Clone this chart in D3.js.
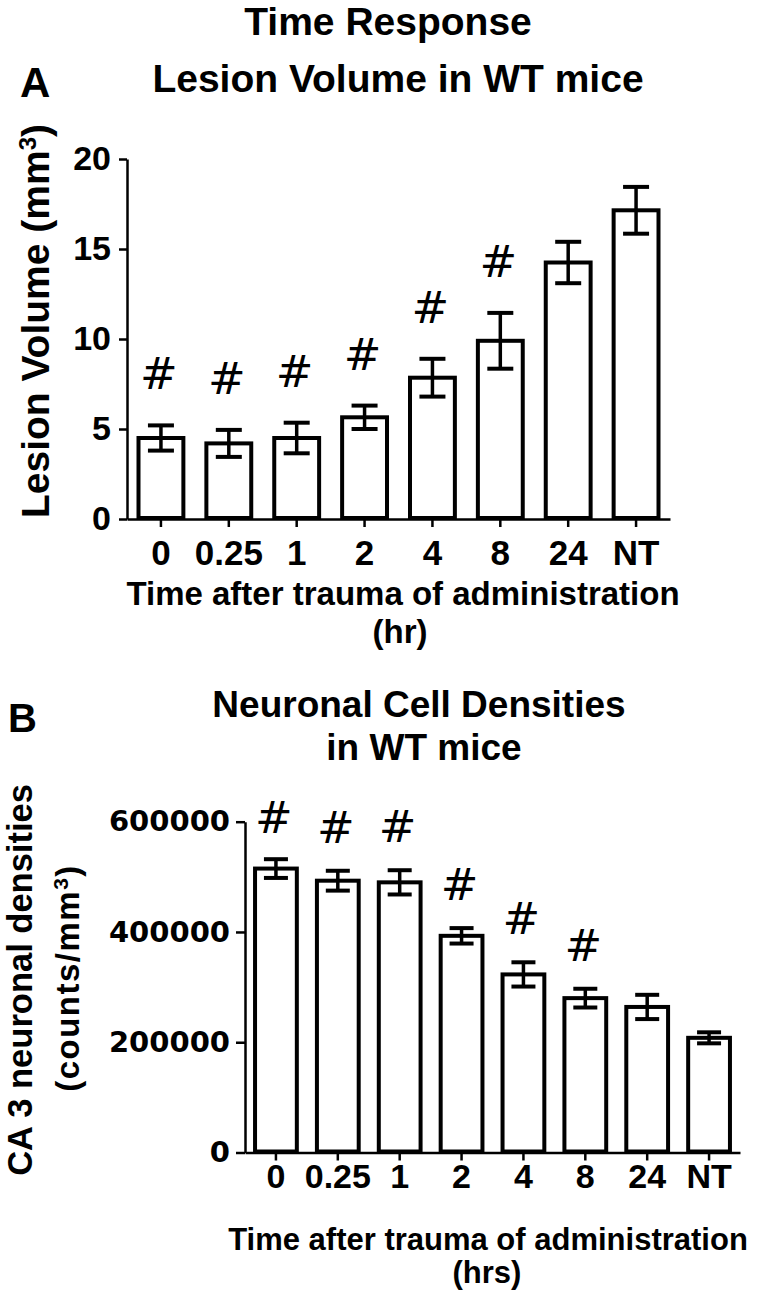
<!DOCTYPE html>
<html>
<head>
<meta charset="utf-8">
<script src="https://cdn.jsdelivr.net/npm/d3@7"></script>
<style>
  html, body { margin: 0; padding: 0; background: #fff; }
  svg { display: block; }
  text { font-family: "Liberation Sans", Arial, sans-serif; font-weight: bold; fill: #000; }
</style>
</head>
<body>
<svg id="chart" width="760" height="1292"></svg>
<script>
// ---------- data ----------
const categories = ["0", "0.25", "1", "2", "4", "8", "24", "NT"];

// Panel A: lesion volume (mm^3)
const lesionMean = [4.5, 4.2, 4.5, 5.65, 7.85, 9.9, 14.25, 17.15];
const lesionErr  = [0.7, 0.75, 0.85, 0.65, 1.05, 1.55, 1.15, 1.3];
const lesionSig  = [true, true, true, true, true, true, false, false];
const lesionTicks = [0, 5, 10, 15, 20];

// Panel B: CA3 neuronal densities (counts/mm^3)
const densityMean = [515000, 493000, 490000, 393000, 323000, 280000, 264000, 208000];
const densityErr  = [17000, 18000, 22000, 14000, 22000, 17000, 22000, 10000];
const densitySig  = [true, true, true, true, true, true, false, false];
const densityTicks = [0, 200000, 400000, 600000];

// ---------- drawing ----------
const svg = d3.select("#chart");

function panel(opts) {
  const g = svg.append("g");
  const x = d3.scaleBand().domain(categories)
    .range(opts.xRange).paddingInner(opts.padIn).paddingOuter(opts.padIn / 2);
  const y = d3.scaleLinear().domain(opts.yDomain).range(opts.yRange);

  // y axis
  const ya = g.append("g").attr("transform", `translate(${opts.xRange[0]},0)`)
    .call(d3.axisLeft(y).tickValues(opts.yTicks).tickSize(opts.yTickSize)
      .tickSizeOuter(0).tickPadding(opts.yTickPad).tickFormat(d3.format("d")));
  ya.select(".domain").attr("stroke", "#000").attr("stroke-width", 2.5);
  ya.selectAll(".tick line").attr("stroke", "#000").attr("stroke-width", 2.5);
  ya.selectAll(".tick text")
    .style("font-family", opts.yTickFont)
    .style("font-size", opts.yTickSizePx + "px")
    .style("font-weight", "bold").attr("fill", "#000");
  ya.attr("font-family", null).attr("font-size", null);

  // x axis
  const xa = g.append("g").attr("transform", `translate(0,${opts.yRange[0]})`)
    .call(d3.axisBottom(x).tickSize(8).tickSizeOuter(0).tickPadding(opts.xTickPad));
  xa.select(".domain").attr("stroke", "#000").attr("stroke-width", 2.5);
  xa.selectAll(".tick line").attr("stroke", "#000").attr("stroke-width", 2.5);
  xa.selectAll(".tick text")
    .style("font-family", '"Liberation Sans", Arial, sans-serif')
    .style("font-size", opts.xTickSizePx + "px")
    .style("font-weight", "bold").attr("fill", "#000");
  xa.attr("font-family", null).attr("font-size", null);

  // bars
  const sw = 4;
  g.selectAll("rect.bar").data(opts.mean).join("rect")
    .attr("class", "bar")
    .attr("x", (d, i) => x(categories[i]) + sw / 2)
    .attr("width", x.bandwidth() - sw)
    .attr("y", d => y(d))
    .attr("height", d => y(0) - y(d) - 1)
    .attr("fill", "#fff").attr("stroke", "#000").attr("stroke-width", sw);

  // error bars
  const cx = i => x(categories[i]) + x.bandwidth() / 2;
  const eb = g.selectAll("g.eb").data(opts.mean).join("g").attr("class", "eb");
  eb.append("line")
    .attr("x1", (d, i) => cx(i)).attr("x2", (d, i) => cx(i))
    .attr("y1", (d, i) => y(d + opts.err[i])).attr("y2", (d, i) => y(d - opts.err[i]))
    .attr("stroke", "#000").attr("stroke-width", 3.5);
  [1, -1].forEach(s => {
    eb.append("line")
      .attr("x1", (d, i) => cx(i) - opts.cap / 2).attr("x2", (d, i) => cx(i) + opts.cap / 2)
      .attr("y1", (d, i) => y(d + s * opts.err[i])).attr("y2", (d, i) => y(d + s * opts.err[i]))
      .attr("stroke", "#000").attr("stroke-width", 4);
  });

  // significance marks
  g.selectAll("text.sig").data(opts.mean).join("text")
    .attr("class", "sig")
    .filter((d, i) => opts.sig[i])
    .attr("x", (d, i) => cx(i) - 2)
    .attr("y", (d, i) => Math.max(y(d + opts.err[i]) - opts.sigGap, opts.sigTop))
    .attr("text-anchor", "middle")
    .style("font-family", '"DejaVu Sans", sans-serif')
    .style("font-weight", "normal")
    .style("font-size", "45px")
    .text("#");
  return { x, y };
}

// ---- Panel A ----
panel({
  xRange: [127, 670], padIn: 0.28,
  yDomain: [0, 20], yRange: [519, 159], yTicks: lesionTicks,
  yTickSize: 8, yTickPad: 8, yTickFont: '"Liberation Sans", Arial, sans-serif', yTickSizePx: 34,
  xTickPad: 13, xTickSizePx: 35,
  mean: lesionMean, err: lesionErr, sig: lesionSig, cap: 26, sigGap: 36, sigTop: 0
});

svg.append("text").attr("x", 388).attr("y", 35).attr("text-anchor", "middle")
  .style("font-size", "39px").text("Time Response");
svg.append("text").attr("x", 398).attr("y", 92).attr("text-anchor", "middle")
  .style("font-size", "39px").text("Lesion Volume in WT mice");
svg.append("text").attr("x", 20).attr("y", 97).style("font-size", "42px").text("A");

const ylA = svg.append("text").attr("transform", "translate(49,321) rotate(-90)")
  .attr("text-anchor", "middle").style("font-size", "39px");
ylA.append("tspan").text("Lesion Volume (mm");
ylA.append("tspan").attr("baseline-shift", "super").style("font-size", "24px").text("3");
ylA.append("tspan").text(")");

svg.append("text").attr("x", 403).attr("y", 605).attr("text-anchor", "middle")
  .style("font-size", "33px").text("Time after trauma of administration");
svg.append("text").attr("x", 400).attr("y", 643).attr("text-anchor", "middle")
  .style("font-size", "33px").text("(hr)");

// ---- Panel B ----
panel({
  xRange: [245, 740], padIn: 0.26,
  yDomain: [0, 600000], yRange: [1152.5, 821.7], yTicks: densityTicks,
  yTickSize: 9, yTickPad: 6, yTickFont: '"DejaVu Sans", sans-serif', yTickSizePx: 29,
  xTickPad: 3, xTickSizePx: 34,
  mean: densityMean, err: densityErr, sig: densitySig, cap: 24, sigGap: 28, sigTop: 833
});

svg.append("text").attr("x", 8).attr("y", 732).style("font-size", "40px").text("B");
svg.append("text").attr("x", 419).attr("y", 717).attr("text-anchor", "middle")
  .style("font-size", "37px").text("Neuronal Cell Densities");
svg.append("text").attr("x", 424).attr("y", 760).attr("text-anchor", "middle")
  .style("font-size", "37px").text("in WT mice");

svg.append("text").attr("transform", "translate(32,980) rotate(-90)")
  .attr("text-anchor", "middle").style("font-size", "34.5px").text("CA 3 neuronal densities");
const ylB = svg.append("text").attr("transform", "translate(79,978) rotate(-90)")
  .attr("text-anchor", "middle").style("font-size", "33px").attr("letter-spacing", "1.5px");
ylB.append("tspan").text("(counts/mm");
ylB.append("tspan").attr("baseline-shift", "super").style("font-size", "21px").text("3");
ylB.append("tspan").text(")");

svg.append("text").attr("x", 488).attr("y", 1250).attr("text-anchor", "middle")
  .style("font-size", "31px").text("Time after trauma of administration");
svg.append("text").attr("x", 487).attr("y", 1283).attr("text-anchor", "middle")
  .style("font-size", "31px").text("(hrs)");
</script>
</body>
</html>
